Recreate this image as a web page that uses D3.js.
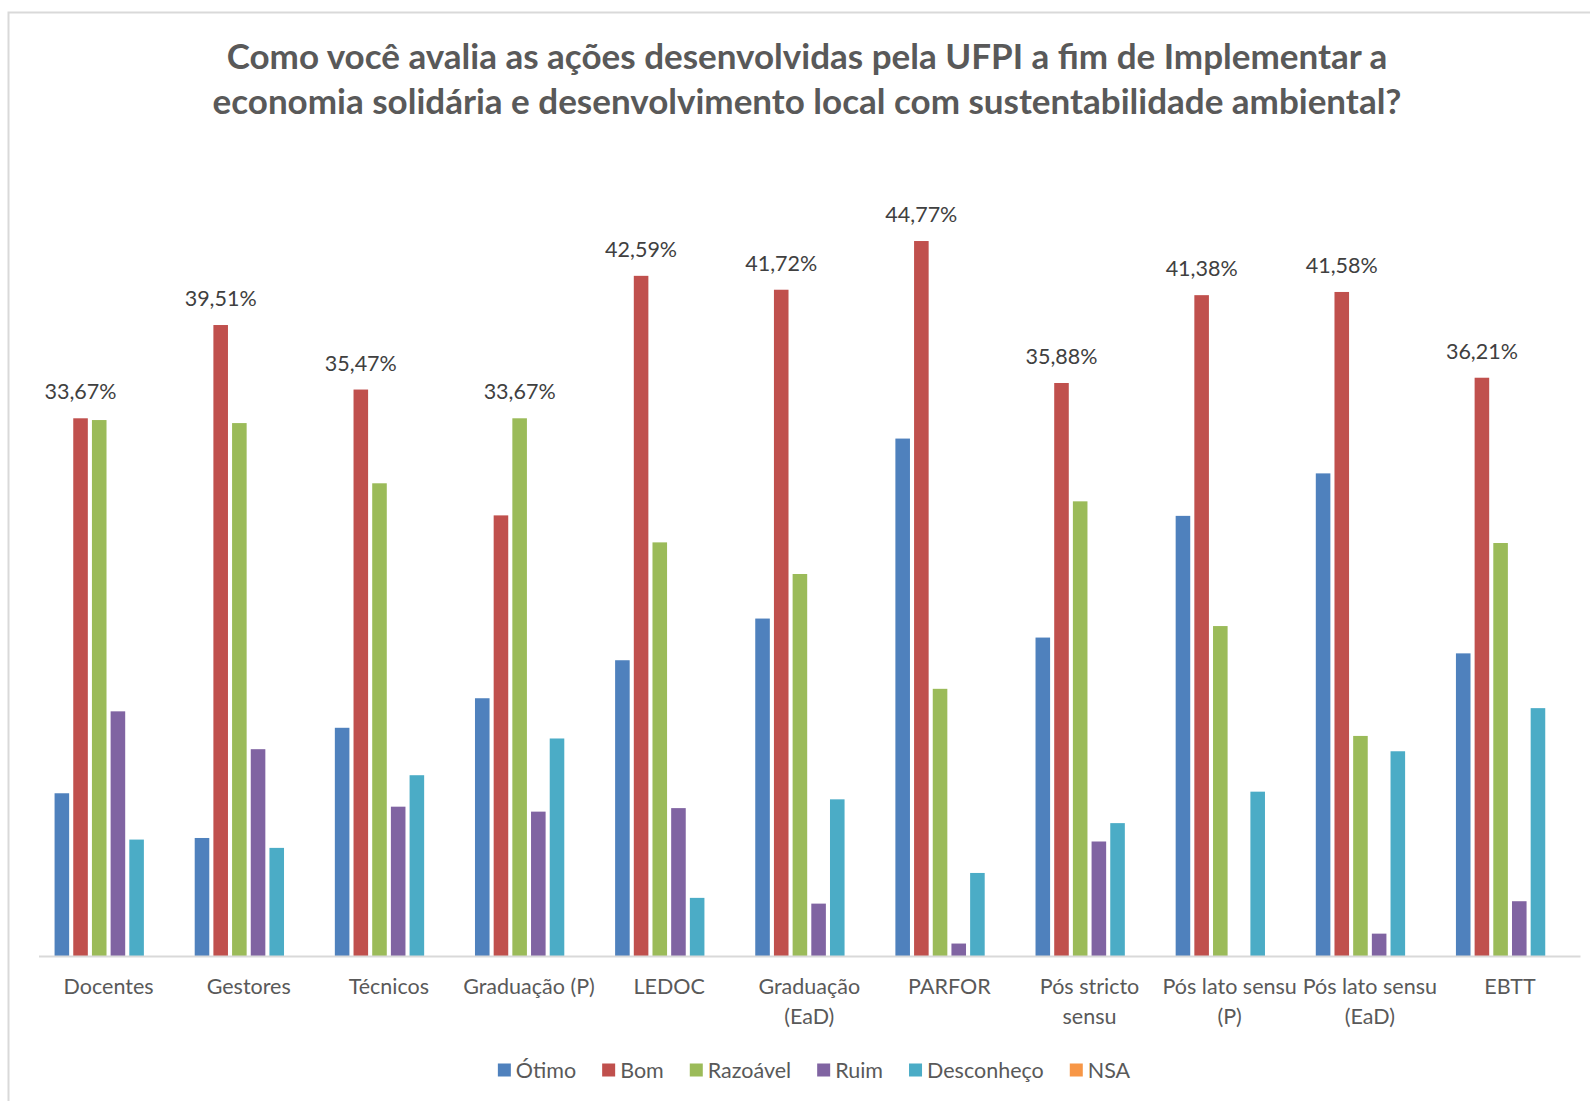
<!DOCTYPE html>
<html>
<head>
<meta charset="utf-8">
<script src="https://cdn.jsdelivr.net/npm/d3@7"></script>
<style>
  body { margin: 0; background: #fff; }
  svg { display: block; font-family: Lato, "Open Sans", sans-serif; }
</style>
</head>
<body>
<svg id="chart" width="1590" height="1101"></svg>
<script>
// categories (groups on the x axis)
var categories = ["Docentes", "Gestores", "Técnicos", "Graduação (P)", "LEDOC", "Graduação (EaD)",
  "PARFOR", "Pós stricto sensu", "Pós lato sensu (P)", "Pós lato sensu (EaD)", "EBTT"];
// tick labels as they wrap under the axis
var tickLines = [["Docentes"], ["Gestores"], ["Técnicos"], ["Graduação (P)"], ["LEDOC"], ["Graduação", "(EaD)"],
  ["PARFOR"], ["Pós stricto", "sensu"], ["Pós lato sensu", "(P)"], ["Pós lato sensu", "(EaD)"], ["EBTT"]];

var seriesNames = ["Ótimo", "Bom", "Razoável", "Ruim", "Desconheço", "NSA"];
var seriesColors = ["#4f81bd", "#c0504d", "#9bbb59", "#8064a2", "#4bacc6", "#f79646"];

// values in %, one per category
var otimo      = [10.19, 7.39, 14.29, 16.14, 18.52, 21.13, 32.40, 19.94, 27.56, 30.22, 18.95];
var bom        = [33.67, 39.51, 35.47, 27.59, 42.59, 41.72, 44.77, 35.88, 41.38, 41.58, 36.21];
var razoavel   = [33.56, 33.37, 29.60, 33.67, 25.90, 23.92, 16.73, 28.47, 20.66, 13.78, 25.86];
var ruim       = [15.32, 12.95, 9.35, 9.04, 9.26, 3.28, 0.78, 7.17, 0, 1.40, 3.43];
var desconheco = [7.29, 6.77, 11.32, 13.62, 3.64, 9.81, 5.20, 8.32, 10.29, 12.82, 15.52];
var nsa        = [0, 0, 0, 0, 0, 0, 0, 0, 0, 0, 0];

var seriesValues = [otimo, bom, razoavel, ruim, desconheco, nsa];

var titleLines = ["Como você avalia as ações desenvolvidas pela UFPI a fim de Implementar a",
  "economia solidária e desenvolvimento local com sustentabilidade ambiental?"];

var svg = d3.select("#chart");

// chart frame
svg.append("rect")
  .attr("x", 8.5).attr("y", 12.5)
  .attr("width", 1600).attr("height", 1100)
  .attr("fill", "#fff")
  .attr("stroke", "#d9d9d9")
  .attr("stroke-width", 2);

// title
svg.append("g").selectAll("text")
  .data(titleLines)
  .join("text")
  .attr("x", 807)
  .attr("y", function(d, i) { return 69 + i * 45; })
  .attr("text-anchor", "middle")
  .attr("font-weight", "bold")
  .attr("font-size", 35)
  .attr("fill", "#595959")
  .text(function(d) { return d; });

var baseY = 956;

var x0 = d3.scaleBand()
  .domain(categories)
  .range([38.5, 1580])
  .paddingInner(0.2)
  .paddingOuter(0.1);

var x1 = d3.scaleBand()
  .domain(seriesNames)
  .range([0, x0.bandwidth()])
  .paddingInner(0.22)
  .paddingOuter(0.11);

var y = d3.scaleLinear()
  .domain([0, 50])
  .range([baseY, baseY - 50 * 15.97]);

// bars
var groups = svg.append("g").selectAll("g")
  .data(categories)
  .join("g")
  .attr("transform", function(d) { return "translate(" + x0(d) + ",0)"; });

groups.selectAll("rect")
  .data(function(d, ci) {
    return seriesNames.map(function(s, si) {
      return { series: s, value: seriesValues[si][ci], color: seriesColors[si] };
    });
  })
  .join("rect")
  .attr("x", function(d) { return x1(d.series); })
  .attr("width", x1.bandwidth())
  .attr("y", function(d) { return y(d.value); })
  .attr("height", function(d) { return baseY - y(d.value); })
  .attr("fill", function(d) { return d.color; });

// data label only over the highest bar of each group
var fmt = function(v) { return v.toFixed(2).replace(".", ",") + "%"; };
groups.append("text")
  .each(function(d, ci) {
    var best = 0;
    seriesValues.forEach(function(arr, si) { if (arr[ci] > seriesValues[best][ci]) best = si; });
    var v = seriesValues[best][ci];
    d3.select(this)
      .attr("x", x1(seriesNames[best]) + x1.bandwidth() / 2)
      .attr("y", y(v) - 19)
      .text(fmt(v));
  })
  .attr("text-anchor", "middle")
  .attr("font-size", 21.5)
  .attr("fill", "#404040");

// x axis
var xAxis = svg.append("g")
  .attr("transform", "translate(0," + baseY + ")")
  .call(d3.axisBottom(x0).tickSize(0).tickSizeOuter(0));

xAxis.select(".domain")
  .attr("stroke", "#d9d9d9")
  .attr("stroke-width", 2);

xAxis.selectAll(".tick text").each(function(d, i) {
  var t = d3.select(this).text(null)
    .attr("y", 0).attr("dy", null)
    .attr("font-family", "Lato, 'Open Sans', sans-serif")
    .attr("font-size", 21.5)
    .attr("fill", "#595959");
  tickLines[i].forEach(function(line, li) {
    t.append("tspan").attr("x", 0).attr("y", 38 + li * 30).text(line);
  });
});

// legend
var legend = svg.append("g").attr("transform", "translate(0,1070)");
var items = legend.selectAll("g")
  .data(seriesNames)
  .join("g");
items.append("rect")
  .attr("y", -6.5).attr("width", 13).attr("height", 13)
  .attr("fill", function(d, i) { return seriesColors[i]; });
items.append("text")
  .attr("x", 18).attr("y", 7.5)
  .attr("font-size", 21.5)
  .attr("fill", "#595959")
  .text(function(d) { return d; });

var pos = 0, offsets = [];
items.each(function() {
  offsets.push(pos);
  pos += 18 + d3.select(this).select("text").node().getComputedTextLength() + 26;
});
var total = pos - 26;
var startX = 814 - total / 2;
items.attr("transform", function(d, i) { return "translate(" + (startX + offsets[i]) + ",0)"; });
</script>
</body>
</html>
